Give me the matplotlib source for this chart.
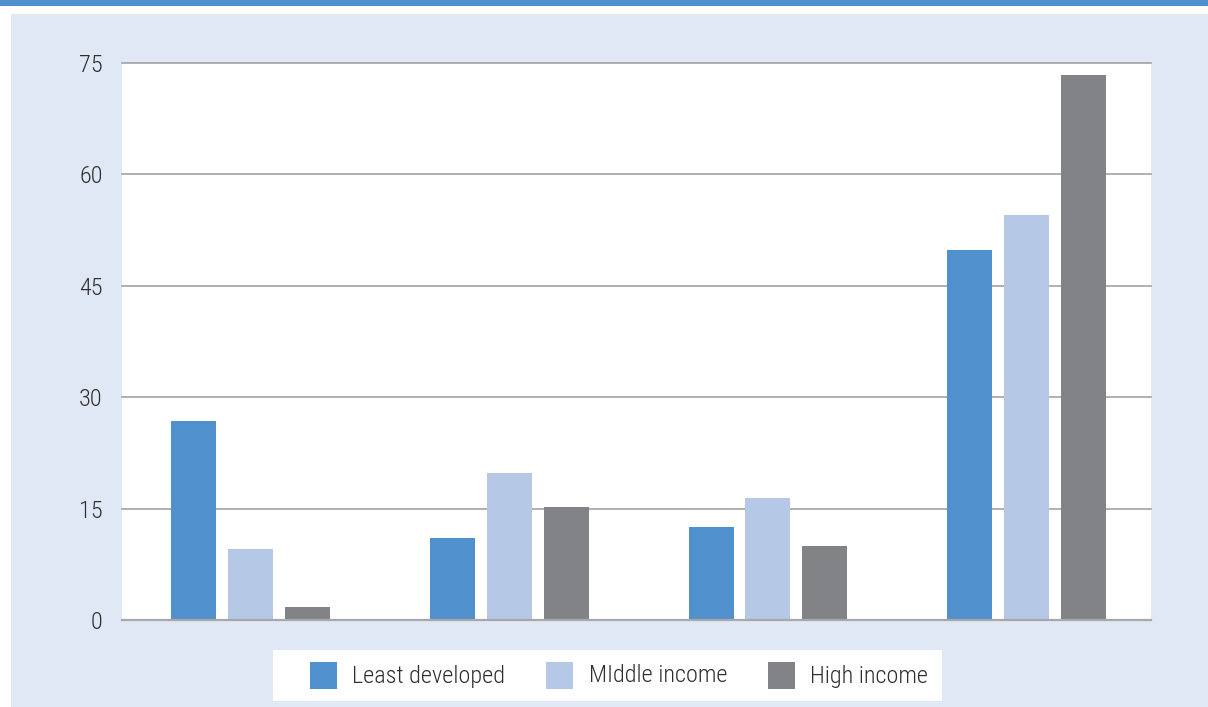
import matplotlib
matplotlib.use("Agg")
import matplotlib.pyplot as plt
from matplotlib.patches import Rectangle
from matplotlib import font_manager

categories = ["A", "B", "C", "D"]
series_names = ["Least developed", "MIddle income", "High income"]
least_developed = [26.8, 11.0, 12.5, 49.8]
middle_income = [9.5, 19.8, 16.4, 54.5]
high_income = [1.75, 15.2, 10.0, 73.4]
yticks = [0, 15, 30, 45, 60, 75]

colors = ["#4f90cd", "#b5c8e6", "#828387"]
panel = "#e1e8f5"

names = {f.name for f in font_manager.fontManager.ttflist}
cond = [n for n in ["Roboto Condensed", "Liberation Sans Narrow", "Open Sans Condensed"] if n in names]
font = cond + ["Roboto", "DejaVu Sans"]
plt.rcParams["font.family"] = font
fs = 17.5 if cond else 15.5
fw = "light"

W, H = 1208, 707
fig = plt.figure(figsize=(W / 100, H / 100), dpi=100, facecolor="white")

# background decorations
fig.patches.append(Rectangle((0, 1 - 6 / H), 1, 6 / H, transform=fig.transFigure,
                             facecolor="#4f8fcc", edgecolor="none", zorder=0))
fig.patches.append(Rectangle((11 / W, 0), 1 - 11 / W, 1 - 14 / H, transform=fig.transFigure,
                             facecolor=panel, edgecolor="none", zorder=0))

ax = fig.add_axes([122 / W, 1 - 620 / H, 1029 / W, 557 / H])
ax.set_zorder(5)
ax.set_facecolor("white")

x = list(range(len(categories)))
bw = 0.174
off = 0.2195
data = [least_developed, middle_income, high_income]
for i, vals in enumerate(data):
    ax.bar([xi + (i - 1) * off for xi in x], vals, width=bw, color=colors[i],
           edgecolor="none", zorder=3)

ax.set_xlim(-0.497, 3.481)
ax.set_ylim(0, 75)
ax.set_yticks(yticks)
ax.set_yticklabels([str(t) for t in yticks], fontsize=fs, color="#2e2e2e", fontweight=fw)
ax.set_xticks([])
ax.tick_params(axis="y", length=0, pad=14)
for s in ax.spines.values():
    s.set_visible(False)
for t in yticks[1:]:
    ax.axhline(t, color="#a3a3a3", lw=1.2, zorder=1, clip_on=False)
ax.axhline(0, color="#a8a8a8", lw=1.6, zorder=4, clip_on=False)

# legend
fig.patches.append(Rectangle((273 / W, 1 - 701 / H), (942 - 273) / W, 51 / H,
                             transform=fig.transFigure, facecolor="white",
                             edgecolor="none", zorder=1))
patch_x = [310, 546, 768]
text_x = [352, 589, 810]
for i, name in enumerate(series_names):
    fig.patches.append(Rectangle((patch_x[i] / W, 1 - 689 / H), 27 / W, 27 / H,
                                 transform=fig.transFigure, facecolor=colors[i],
                                 edgecolor="none", zorder=2))
    fig.text(text_x[i] / W, 1 - 676 / H, name, fontsize=fs, color="#2e2e2e",
             fontweight=fw, va="center", ha="left", zorder=3)

fig.savefig("out.png", dpi=100, facecolor="white")
